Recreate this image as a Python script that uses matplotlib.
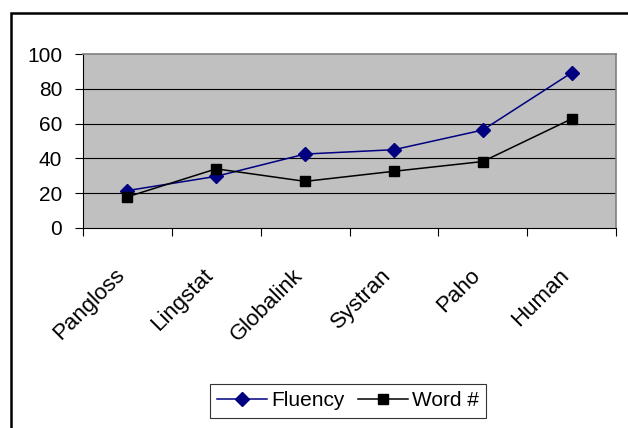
import matplotlib
matplotlib.use('Agg')
import matplotlib.pyplot as plt
from matplotlib.patches import Rectangle

# data
systems = ['Pangloss', 'Lingstat', 'Globalink', 'Systran', 'Paho', 'Human']
fluency = [21.5, 29.7, 42.5, 45.0, 56.3, 89.2]
word_count = [17.9, 34.0, 26.8, 32.6, 38.2, 62.7]
y_ticks = [0, 20, 40, 60, 80, 100]

plt.rcParams['font.family'] = ['Liberation Sans', 'DejaVu Sans']

fig = plt.figure(figsize=(6.28, 4.28), dpi=100)
ax = fig.add_axes([83 / 628, 1 - 228 / 428, 533 / 628, 174 / 428])

# outer chart border (runs off the right and bottom of the image)
fig.patches.append(Rectangle((11 / 628, -0.1), 1.2, 1 - 13 / 428 + 0.1,
                             transform=fig.transFigure, fill=False,
                             edgecolor='black', linewidth=1.8))

x = list(range(len(systems)))
ax.set_facecolor('#c0c0c0')
for yv in y_ticks[1:-1]:
    ax.axhline(yv, color='black', linewidth=0.8, zorder=1)

ax.plot(x, fluency, color='#000080', marker='D', markersize=7, linewidth=1.1,
        label='Fluency', zorder=3)
ax.plot(x, word_count, color='black', marker='s', markersize=7, linewidth=1.1,
        label='Word #', zorder=3)

ax.set_xlim(-0.5, len(systems) - 0.5)
ax.set_ylim(0, 100)
ax.set_yticks(y_ticks)
ax.set_yticklabels([str(v) for v in y_ticks], fontsize=15)

# category ticks sit between the categories
ax.set_xticks([i - 0.5 for i in range(len(systems) + 1)])
ax.set_xticklabels([])
ax.tick_params(axis='x', direction='out', length=6, width=0.8, color='black')
ax.tick_params(axis='y', direction='out', length=6, width=0.8, color='black', pad=9)
for i, name in enumerate(systems):
    ax.text(i - 0.15, -21, name, rotation=45, ha='right', va='top',
            rotation_mode='anchor', fontsize=16)

for side in ['top', 'right']:
    ax.spines[side].set_color('#808080')
    ax.spines[side].set_linewidth(1.2)
ax.spines['left'].set_color('black')
ax.spines['bottom'].set_color('black')

leg = fig.legend(loc='center', bbox_to_anchor=(348 / 628, 1 - 401 / 428), ncol=2,
                 fontsize=15, frameon=True, fancybox=False, shadow=False,
                 handlelength=2.4, columnspacing=0.6, handletextpad=0.2,
                 borderpad=0.35)
leg.get_frame().set_edgecolor('black')
leg.get_frame().set_linewidth(0.8)

fig.savefig('out.png', dpi=100)
